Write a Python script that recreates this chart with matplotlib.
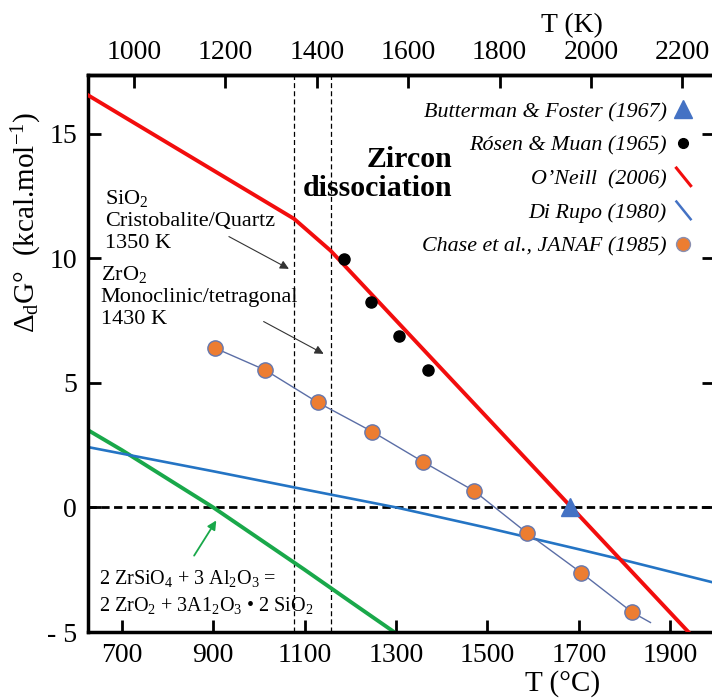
import matplotlib
matplotlib.use("Agg")
import matplotlib.pyplot as plt
from matplotlib.legend_handler import HandlerBase
from matplotlib.lines import Line2D

# O'Neill (2006), T en °C, kcal/mol
oneill_t = [626, 1077, 1157, 1940]
oneill_g = [16.54, 11.58, 10.30, -5.0]

# Di Rupo (1980)
dirupo_t = [626, 900, 1100, 1300, 1500, 1700, 1800, 1996]
dirupo_g = [2.42, 1.45, 0.72, 0.0, -0.82, -1.68, -2.12, -3.02]

# 2 ZrSiO4 + 3 Al2O3 reaction
mullite_t = [626, 700, 800, 900, 1000, 1100, 1200, 1296]
mullite_g = [3.10, 2.30, 1.15, 0.0, -1.25, -2.50, -3.78, -5.0]

# Chase et al., JANAF (1985)
janaf_t = [903, 1014, 1129, 1248, 1360, 1471, 1587, 1706, 1817]
janaf_g = [6.40, 5.51, 4.21, 3.04, 1.82, 0.66, -1.03, -2.63, -4.21]
janaf_fit_t = janaf_t + [1857]
janaf_fit_g = janaf_g + [-4.62]

# Rósen & Muan (1965)
rosen_t = [1187, 1246, 1306, 1369]
rosen_g = [9.98, 8.25, 6.88, 5.50]

# Butterman & Foster (1967)
butterman_t = [1680]
butterman_g = [0.0]

# transitions SiO2 / ZrO2 (K)
transitions_k = [1350, 1430]

c_ticks = [700, 900, 1100, 1300, 1500, 1700, 1900]
k_ticks = [1000, 1200, 1400, 1600, 1800, 2000, 2200]
g_ticks = [-5, 0, 5, 10, 15]
g_labels = ["- 5", "0", "5", "10", "15"]


class SlantHandler(HandlerBase):
    # petit trait oblique dans la légende
    def create_artists(self, legend, orig, xd, yd, w, h, fs, trans):
        ln = Line2D([-xd + 0.2 * w, -xd + 0.85 * w], [-yd + h * 1.05, -yd - 0.1 * h],
                    color=orig.get_color(), lw=orig.get_linewidth())
        ln.set_transform(trans)
        return [ln]


plt.rcParams["font.family"] = ["Liberation Serif", "DejaVu Serif"]
plt.rcParams["mathtext.fontset"] = "custom"
plt.rcParams["mathtext.rm"] = "Liberation Serif"
plt.rcParams["mathtext.it"] = "Liberation Serif:italic"
plt.rcParams["mathtext.bf"] = "Liberation Serif:bold"

fig = plt.figure(figsize=(7.12, 6.99), dpi=100)
ax = fig.add_axes([88 / 712, 67 / 699, 626 / 712, 557 / 699])
ax.set_xlim(626, 1996)
ax.set_ylim(-5, 17.35)

# lignes de référence
ax.axhline(0, color="black", lw=2, ls=(0, (3, 1.6)), zorder=1)
for tk in transitions_k:
    ax.axvline(tk - 273.15, color="black", lw=0.9, ls=(0, (4, 2.5)), zorder=1)

# courbes
ax.plot(mullite_t, mullite_g, color="#19a84a", lw=2.8, zorder=2)
ax.plot(dirupo_t, dirupo_g, color="#2474c4", lw=1.9, zorder=2)
ax.plot(janaf_fit_t, janaf_fit_g, color="#5b6ea6", lw=1.0, zorder=2)
ax.plot(oneill_t, oneill_g, color="#f20d0d", lw=2.8, zorder=3)
ax.plot(janaf_t, janaf_g, ls="none", marker="o", ms=11, mfc="#ed7d31",
        mec="#6478b0", mew=1.0, zorder=4)
ax.plot(rosen_t, rosen_g, ls="none", marker="o", ms=8, color="black", zorder=4)
ax.plot(butterman_t, butterman_g, ls="none", marker="^", ms=13,
        color="#4472c4", zorder=5)

# légende
h_but = Line2D([], [], ls="none", marker="^", ms=13, color="#4472c4")
h_ros = Line2D([], [], ls="none", marker="o", ms=7, color="black")
h_one = Line2D([], [], color="#f20d0d", lw=2.2)
h_dir = Line2D([], [], color="#4472c4", lw=1.8)
h_jan = Line2D([], [], ls="none", marker="o", ms=10, mfc="#ed7d31", mec="#8a8fb0")
leg = ax.legend([h_but, h_ros, h_one, h_dir, h_jan],
                ["Butterman & Foster (1967)", "Rósen & Muan (1965)", "O\u2019Neill  (2006)",
                 "Di Rupo (1980)", "Chase et al., JANAF (1985)"],
                loc="upper right", bbox_to_anchor=(0.968, 0.952), frameon=False,
                markerfirst=False, handlelength=1.0, handletextpad=0.25,
                labelspacing=0.6, borderpad=0, borderaxespad=0,
                prop=dict(style="italic", size=15.8),
                handler_map={h_one: SlantHandler(), h_dir: SlantHandler()})

# annotations
ax.text(1423, 14.5, "Zircon\ndissociation", ha="right", va="top", fontsize=21.5,
        fontweight="bold", multialignment="right", linespacing=1.1)
ax.text(663, 12.8, "SiO$_2$\nCristobalite/Quartz\n1350 K", ha="left", va="top",
        fontsize=16, linespacing=1.2)
ax.text(654, 9.75, "ZrO$_2$\nMonoclinic/tetragonal\n1430 K", ha="left", va="top",
        fontsize=16, linespacing=1.2)
ax.text(650, -2.45, "2 ZrSiO$_4$ + 3 Al$_2$O$_3$ =\n2 ZrO$_2$ + 3A1$_2$O$_3$ \u2022 2 SiO$_2$",
        ha="left", va="top", fontsize=14.5, linespacing=1.33)
arrow_k = dict(arrowstyle="-|>", color="#333333", lw=0.8, mutation_scale=13)
ax.annotate("", xy=(1071, 9.52), xytext=(929, 10.92), arrowprops=arrow_k)
ax.annotate("", xy=(1147, 6.11), xytext=(1005, 7.51), arrowprops=arrow_k)
ax.annotate("", xy=(910, -0.43), xytext=(855, -2.03),
            arrowprops=dict(arrowstyle="-|>", color="#19a84a", lw=1.3, mutation_scale=13))

# axes
ax.set_xticks(c_ticks)
ax.set_yticks(g_ticks)
ax.set_yticklabels(g_labels)
ax.tick_params(direction="in", length=9, width=2, labelsize=20, pad=8,
               right=True, top=False)
for sp in ax.spines.values():
    sp.set_linewidth(2.5)

secax = ax.secondary_xaxis("top", functions=(lambda c: c + 273.15, lambda k: k - 273.15))
secax.set_xticks(k_ticks)
secax.tick_params(direction="in", length=9, width=2, labelsize=20, pad=7)
secax.spines["top"].set_linewidth(2.5)

fig.text(563 / 712, 1 - 684 / 699, "T (\u00b0C)", ha="center", va="center", fontsize=21)
fig.text(572 / 712, 1 - 26 / 699, "T (K)", ha="center", va="center", fontsize=20)
fig.text(27 / 712, 1 - 222 / 699, "$\\Delta_{\\rm d}$G\u00b0  (kcal.mol$^{-1}$)",
         ha="center", va="center", rotation=90, fontsize=21)

fig.savefig("out.png", dpi=100)
plt.close(fig)
